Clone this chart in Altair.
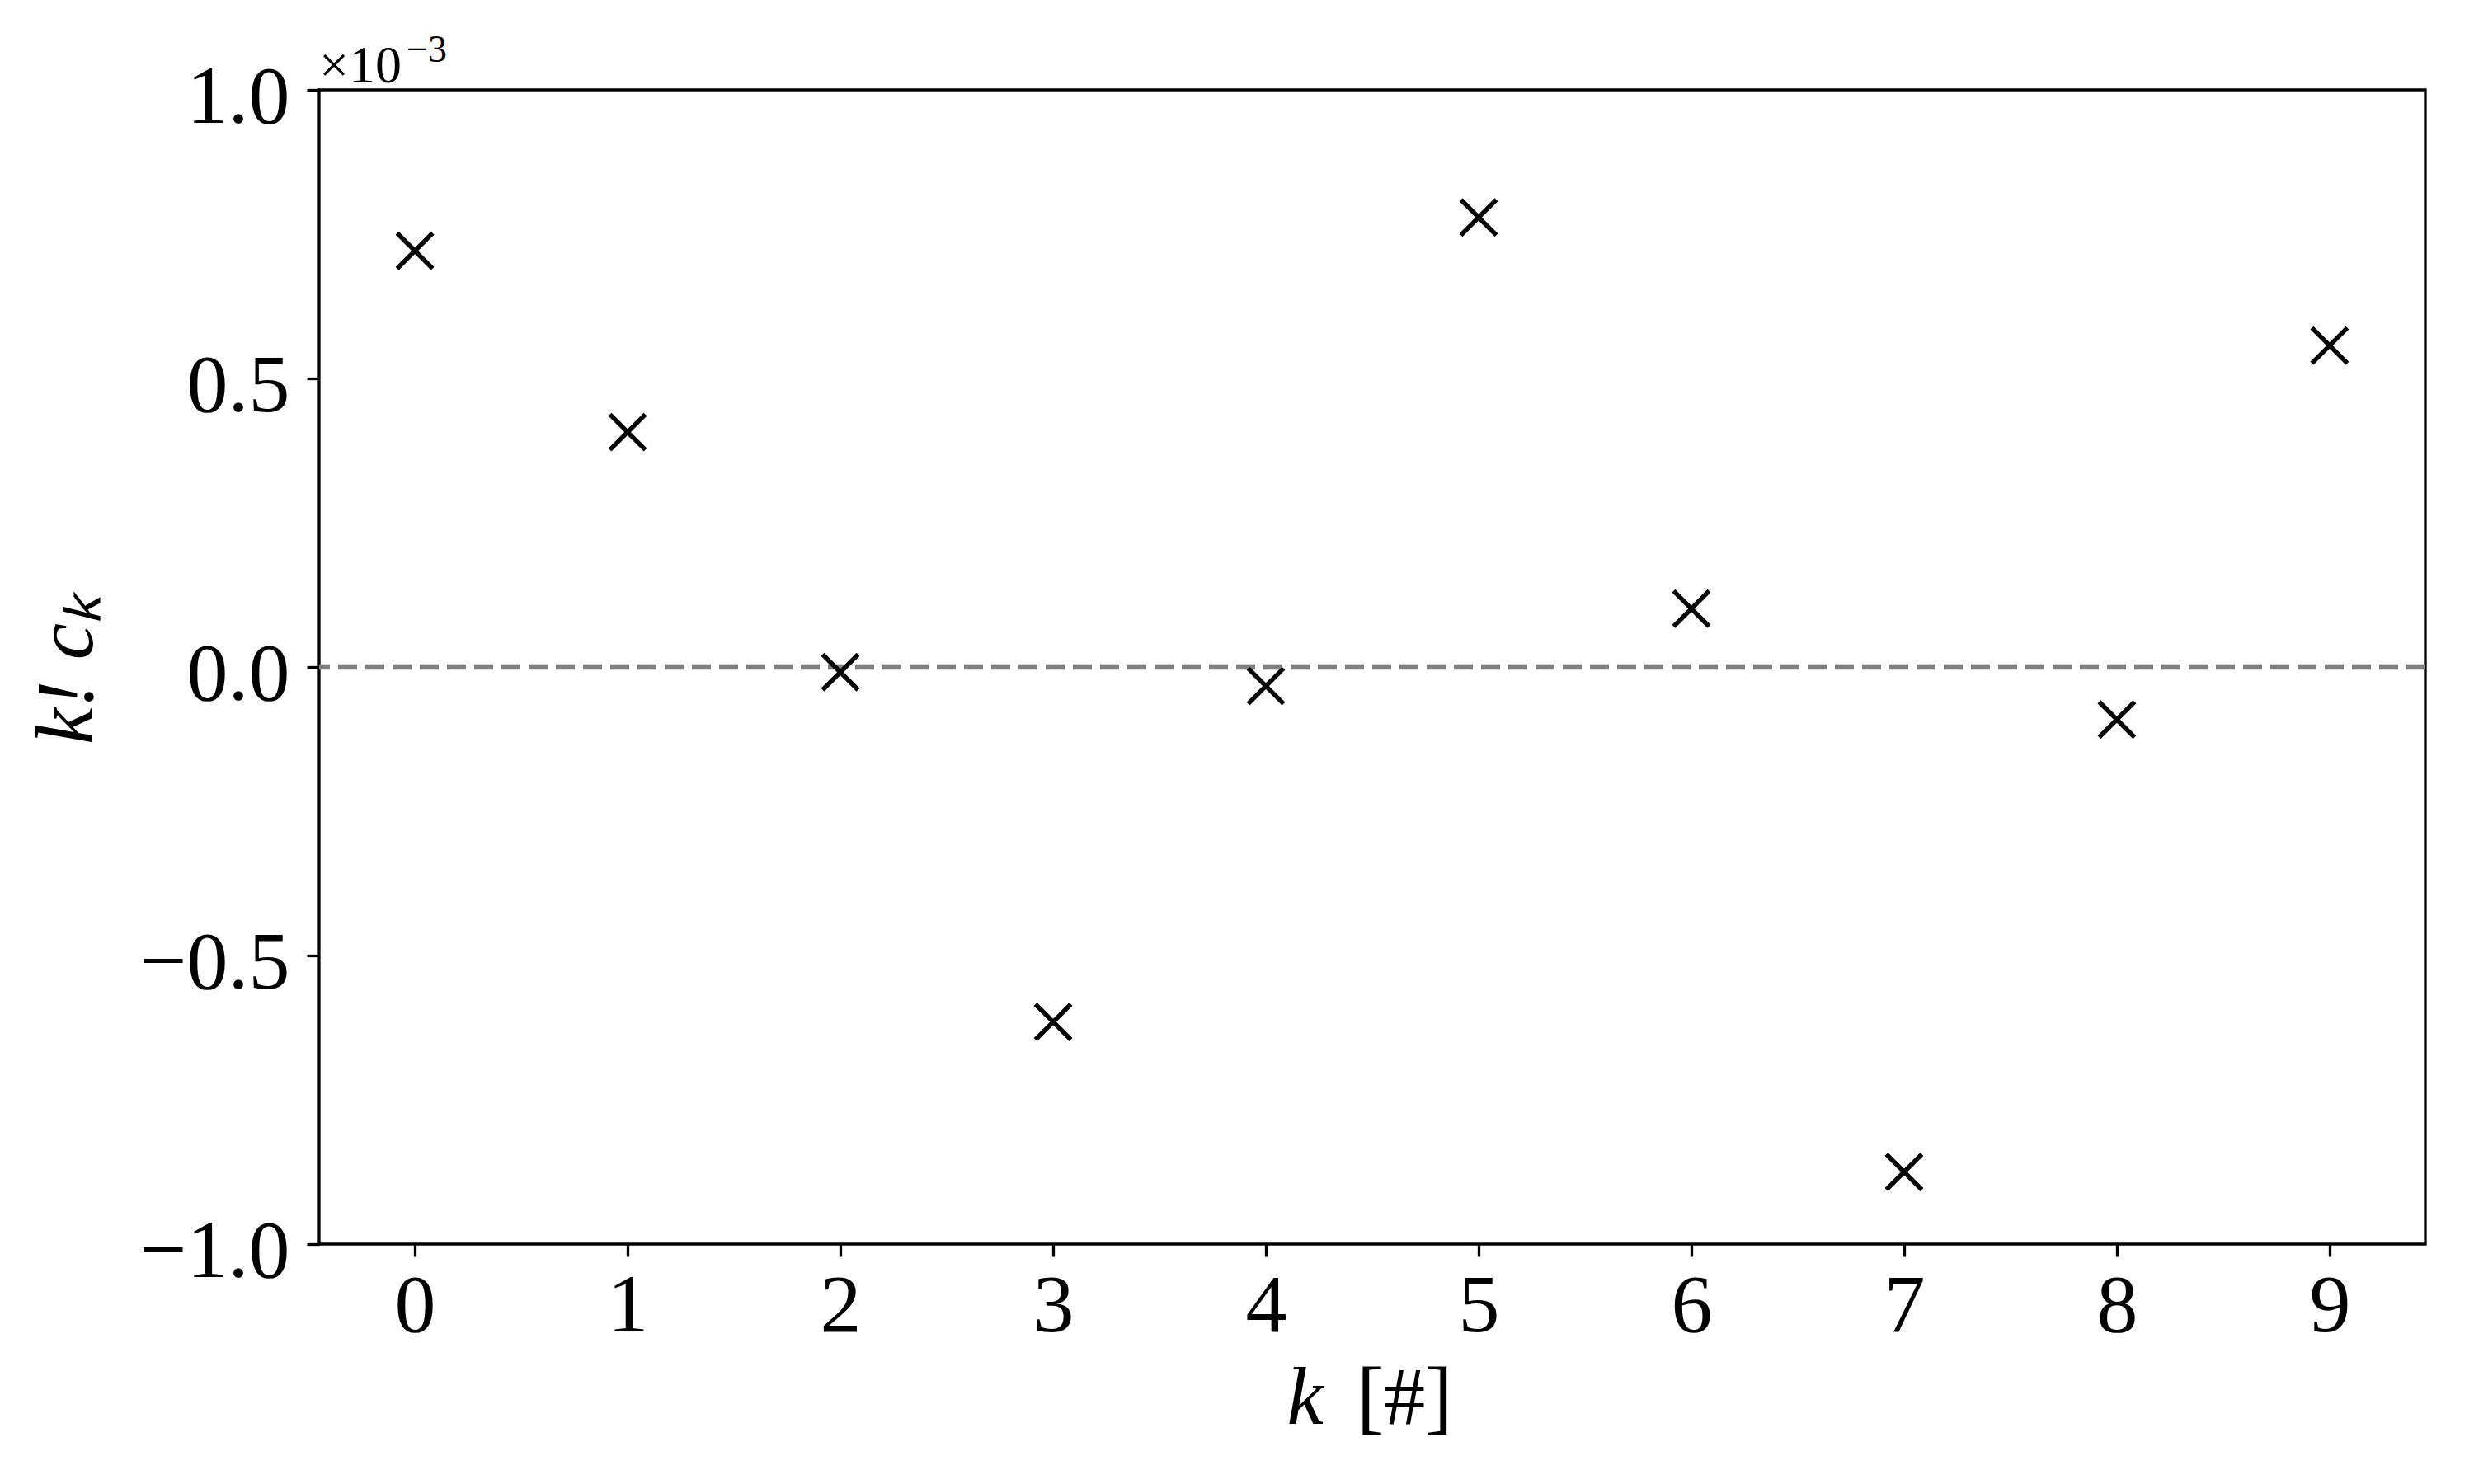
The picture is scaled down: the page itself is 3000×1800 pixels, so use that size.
import altair as alt
import pandas as pd

k_values = [0, 1, 2, 3, 4, 5, 6, 7, 8, 9]
kfact_ck = [0.721e-3, 0.407e-3, -0.009e-3, -0.615e-3, -0.033e-3,
            0.779e-3, 0.101e-3, -0.875e-3, -0.091e-3, 0.557e-3]
x_ticks = [0, 1, 2, 3, 4, 5, 6, 7, 8, 9]
y_ticks = [-1.0e-3, -0.5e-3, 0.0, 0.5e-3, 1.0e-3]
offset_base = ["×10"]
offset_exp = ["\u22123"]
y_title = ["k! cₖ"]
x_title_var = ["k"]
x_title_unit = ["[#]"]

W, H = 2554, 1400
FONT = "Liberation Serif"

df = pd.DataFrame({"k": k_values, "v": kfact_ck})

xscale = alt.Scale(domain=[-0.45, 9.45], nice=False, zero=False)
yscale = alt.Scale(domain=[-1.0e-3, 1.0e-3], nice=False, zero=False)

xaxis = alt.Axis(values=x_ticks, title=None, grid=False, domain=False,
                 tickSize=15, tickWidth=3.3, tickColor="black",
                 labelFont=FONT, labelFontSize=100, labelColor="black",
                 labelBaseline="alphabetic", labelPadding=90, labelFlush=False,
                 labelLimit=0, labelOverlap=False,
                 labelExpr="format(datum.value, 'd')")
yaxis = alt.Axis(values=y_ticks, title=None, grid=False, domain=False,
                 tickSize=15, tickWidth=3.3, tickColor="black",
                 labelFont=FONT, labelFontSize=100, labelColor="black",
                 labelBaseline="alphabetic", labelOffset=39, labelPadding=21,
                 labelFlush=False, labelLimit=0, labelOverlap=False,
                 labelExpr="replace(format(datum.value * 1000, '.1f'), '-', '\u2212')")

zero_line = alt.Chart(pd.DataFrame({"z": [0.0]})).mark_rule(
    color="#808080", strokeWidth=6.3, strokeDash=[23, 10]
).encode(y=alt.Y("z:Q", scale=yscale, axis=yaxis))

points = alt.Chart(df).mark_point(
    shape="M-1,-1L1,1M-1,1L1,-1", size=1849, filled=False,
    stroke="black", strokeWidth=5.5, opacity=1, strokeCap="butt"
).encode(
    x=alt.X("k:Q", scale=xscale, axis=xaxis),
    y=alt.Y("v:Q", scale=yscale, axis=yaxis),
)

offset_text = alt.Chart(pd.DataFrame({"t": offset_base})).mark_text(
    font=FONT, fontSize=64, align="left", baseline="alphabetic", color="black"
).encode(text="t:N", x=alt.value(0), y=alt.value(-9))

offset_exp_text = alt.Chart(pd.DataFrame({"t": offset_exp})).mark_text(
    font=FONT, fontSize=46, align="left", baseline="alphabetic", color="black"
).encode(text="t:N", x=alt.value(106), y=alt.value(-34))

ytitle = alt.Chart(pd.DataFrame({"t": y_title})).mark_text(
    font=FONT, fontSize=100, fontStyle="italic", angle=270, align="center",
    baseline="alphabetic", color="black"
).encode(text="t:N", x=alt.value(-275), y=alt.value(703))

xtitle_k = alt.Chart(pd.DataFrame({"t": x_title_var})).mark_text(
    font=FONT, fontSize=100, fontStyle="italic", align="right",
    baseline="alphabetic", color="black"
).encode(text="t:N", x=alt.value(1218), y=alt.value(1618))

xtitle_u = alt.Chart(pd.DataFrame({"t": x_title_unit})).mark_text(
    font=FONT, fontSize=100, align="left", baseline="alphabetic", color="black"
).encode(text="t:N", x=alt.value(1258), y=alt.value(1618))

chart = alt.layer(zero_line, points, offset_text, offset_exp_text, ytitle,
                  xtitle_k, xtitle_u).properties(
    width=W, height=H,
    autosize=alt.AutoSizeParams(type="none"),
    padding={"left": 379, "top": 101, "right": 50, "bottom": 283},
    background="white",
).configure_view(
    stroke="black", strokeWidth=3.3, fill="white"
)

chart.save("out.html", embed_options={"renderer": "svg", "actions": False})
